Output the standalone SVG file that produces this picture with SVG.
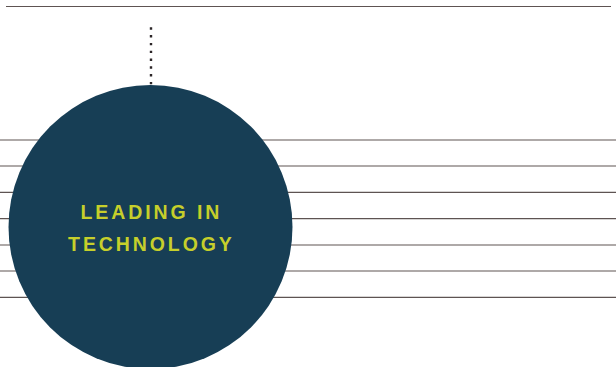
<svg xmlns="http://www.w3.org/2000/svg" width="616" height="367" viewBox="0 0 616 367">
<style>
.rule{stroke:#5e5452;stroke-width:1.2}
.lbl{font-family:"Liberation Sans",Arial,sans-serif;font-weight:bold;font-size:19.5px;fill:#c6cf2b;letter-spacing:2.9px;text-anchor:middle}
</style>
<rect width="616" height="367" fill="#fff"/>
<g id="rules">
<line class="rule" x1="6" y1="6.5" x2="611" y2="6.5"/>
<line class="rule" x1="0" y1="140" x2="616" y2="140"/>
<line class="rule" x1="0" y1="166" x2="616" y2="166"/>
<line class="rule" x1="0" y1="192.3" x2="616" y2="192.3"/>
<line class="rule" x1="0" y1="218.7" x2="616" y2="218.7"/>
<line class="rule" x1="0" y1="245" x2="616" y2="245"/>
<line class="rule" x1="0" y1="271" x2="616" y2="271"/>
<line class="rule" x1="0" y1="297.3" x2="616" y2="297.3"/>
</g>
<g id="connectors">
<line x1="151" y1="27.3" x2="151" y2="85" stroke="#2b2527" stroke-width="2.4" stroke-dasharray="2.4 5.4"/>
</g>
<g id="node-leading">
<circle cx="150.5" cy="227" r="142" fill="#173e55"/>
<text class="lbl" x="151.4" y="218.5">LEADING IN</text>
<text class="lbl" x="151.4" y="250.5">TECHNOLOGY</text>
</g>
</svg>
